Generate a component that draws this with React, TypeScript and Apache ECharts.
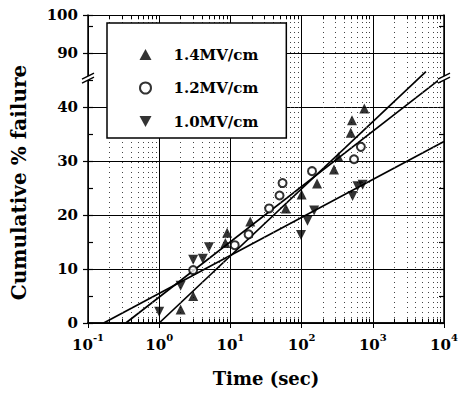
import React, { useEffect, useRef } from 'react';
import * as echarts from 'echarts';

const FONT = '"DejaVu Serif", "Liberation Serif", serif';

const seriesNames = ['1.4MV/cm', '1.2MV/cm', '1.0MV/cm'];

// [time (sec), cumulative % failure]
const data14 = [
  [2, 2.5], [3, 5], [8.5, 14.8], [9, 16.7], [19, 18.8], [60, 21.2], [100, 23.8],
  [165, 25.8], [285, 28.4], [330, 30.7], [490, 35.2], [510, 37.5], [760, 39.7],
];
const data12 = [
  [3, 9.8], [11.5, 14.4], [18, 16.4], [35, 21.2], [49, 23.6], [54, 25.9],
  [140, 28.1], [545, 30.3], [680, 32.6],
];
const data10 = [
  [1, 2.1], [2, 6.9], [3, 11.7], [4.1, 11.9], [5, 14], [98, 16.3], [121, 18.9],
  [150, 20.8], [520, 23.5], [610, 25.3], [720, 25.6],
];

// fitted lines (end points)
const fit14 = [[1, 0], [5570, 46.5]];
const fit12 = [[0.34, 0], [8500, 45]];
const fit10 = [[0.166, 0], [10000, 33.6]];

// y axis: lower part 0..45 linear, upper part 90..100 mapped to 50..57
const yMax = 57;
const yBreak = 45.5;
const yTickLabels: Record<number, string> = { 0: '0', 10: '10', 20: '20', 30: '30', 40: '40', 50: '90', 57: '100' };

const decades = [0.1, 1, 10, 100, 1000];
const minorMultipliers = [2, 3, 4, 5, 6, 7, 8, 9];
const minorX = decades.flatMap((d) => minorMultipliers.map((m) => +(d * m).toPrecision(3)));

const DOWN_TRIANGLE = 'path://M0,0L10,0L5,9Z';

export default function App() {
  const ref = useRef<HTMLDivElement>(null);
  useEffect(() => {
    document.body.style.margin = '0';
    const chart = echarts.init(ref.current!, null, { renderer: 'svg' });
    const black = '#000';
    const tickLabelStyle = { fontFamily: FONT, fontWeight: 'bold' as const, fontSize: 15, color: black };

    const minorGrid = minorX.map((v) => ({ xAxis: v }));
    const minorTicksBottom = minorX.map((v) => [{ coord: [v, 0] }, { coord: [v, 0.8] }]);
    const minorTicksTop = minorX.map((v) => [{ coord: [v, yMax] }, { coord: [v, yMax - 0.8] }]);

    const baseY = {
      type: 'value',
      min: 0,
      max: yMax,
      interval: 10,
    };

    const option: any = {
      animation: false,
      textStyle: { fontFamily: FONT },
      grid: { left: 88, right: 14, top: 15, bottom: 78, containLabel: false, outerBoundsMode: 'none' },
      xAxis: [
        {
          type: 'log', logBase: 10, min: 0.1, max: 10000, position: 'bottom',
          axisLine: { show: true, lineStyle: { color: black, width: 1.5 } },
          axisTick: { show: true, inside: true, length: 5, lineStyle: { color: black, width: 1 } },
          axisLabel: {
            margin: 9,
            formatter: (v: number) => `{b|10}{s|${Math.round(Math.log10(v))}}`,
            rich: {
              b: { ...tickLabelStyle, fontSize: 15, lineHeight: 20, verticalAlign: 'bottom' },
              s: { ...tickLabelStyle, fontSize: 10, lineHeight: 11, verticalAlign: 'top' },
            },
          },
          splitLine: { show: true, lineStyle: { color: black, width: 1 } },
          name: 'Time (sec)', nameLocation: 'middle', nameGap: 46,
          nameTextStyle: { fontFamily: FONT, fontWeight: 'bold', fontSize: 18, color: black },
        },
        {
          type: 'log', logBase: 10, min: 0.1, max: 10000, position: 'top',
          axisLine: { show: true, lineStyle: { color: black, width: 1.5 } },
          axisTick: { show: true, inside: true, length: 5, lineStyle: { color: black, width: 1 } },
          axisLabel: { show: false },
          splitLine: { show: false },
        },
      ],
      yAxis: [
        {
          ...baseY, position: 'left',
          axisLine: { show: true, lineStyle: { color: black, width: 1.5 } },
          axisTick: { show: true, inside: false, length: 5, lineStyle: { color: black, width: 1.2 } },
          axisLabel: { ...tickLabelStyle, margin: 10, formatter: (v: number) => yTickLabels[v] ?? '' },
          splitLine: { show: true, lineStyle: { color: black, width: 1 } },
        },
        {
          ...baseY, position: 'left',
          axisLine: { show: false },
          axisTick: { show: true, inside: true, length: 5, lineStyle: { color: black, width: 1.2 } },
          minorTick: { show: true, splitNumber: 2, length: 5, lineStyle: { color: black, width: 1.2 } },
          axisLabel: { show: false },
          splitLine: { show: false },
        },
        {
          ...baseY, position: 'right',
          axisLine: { show: true, lineStyle: { color: black, width: 1.5 } },
          axisTick: { show: true, inside: true, length: 5, lineStyle: { color: black, width: 1.2 } },
          minorTick: { show: true, splitNumber: 2, length: 5, lineStyle: { color: black, width: 1.2 } },
          axisLabel: { show: false },
          splitLine: { show: false },
        },
      ],
      legend: {
        data: [
          { name: seriesNames[0] },
          { name: seriesNames[1] },
          { name: seriesNames[2], icon: DOWN_TRIANGLE },
        ],
        orient: 'vertical',
        left: 107, top: 23,
        padding: [24, 28, 9, 32],
        itemWidth: 12, itemHeight: 11, itemGap: 18.5,
        backgroundColor: '#fff', borderColor: black, borderWidth: 1.5, borderRadius: 0,
        textStyle: { fontFamily: FONT, fontWeight: 'bold', fontSize: 15, color: black, padding: [0, 0, 0, 17] },
        selectedMode: false,
        z: 10,
      },
      series: [
        {
          name: 'minor', type: 'line', data: [], silent: true,
          markLine: {
            silent: true, symbol: ['none', 'none'], label: { show: false }, animation: false,
            lineStyle: { color: '#444', width: 1, type: [1, 4] },
            data: minorGrid,
          },
        },
        {
          name: 'ticks', type: 'line', data: [], silent: true,
          markLine: {
            silent: true, symbol: ['none', 'none'], label: { show: false }, animation: false,
            lineStyle: { color: black, width: 1, type: 'solid' },
            data: [...minorTicksBottom, ...minorTicksTop],
          },
        },
        { name: 'fit14', type: 'line', data: fit14, showSymbol: false, lineStyle: { color: black, width: 1.7 }, silent: true },
        { name: 'fit12', type: 'line', data: fit12, showSymbol: false, lineStyle: { color: black, width: 1.7 }, silent: true },
        { name: 'fit10', type: 'line', data: fit10, showSymbol: false, lineStyle: { color: black, width: 1.7 }, silent: true },
        {
          name: seriesNames[0], type: 'scatter', data: data14, symbol: 'triangle', symbolSize: 10,
          itemStyle: { color: black }, z: 5,
        },
        {
          name: seriesNames[1], type: 'scatter', data: data12, symbol: 'emptyCircle', symbolSize: 8,
          itemStyle: { color: black, borderColor: black, borderWidth: 1.5 }, z: 6,
        },
        {
          name: seriesNames[2], type: 'scatter', data: data10, symbol: 'triangle', symbolRotate: 180, symbolSize: 10,
          itemStyle: { color: black }, z: 5,
        },
      ],
    };
    chart.setOption(option);

    const yb = chart.convertToPixel({ yAxisIndex: 0 }, yBreak) as number;
    const xl = chart.convertToPixel({ xAxisIndex: 0 }, 0.1) as number;
    const xr = chart.convertToPixel({ xAxisIndex: 0 }, 10000) as number;
    const breakMark = (x0: number) => [
      { type: 'polygon', z: 100, shape: { points: [[x0 - 6, yb + 2], [x0 + 6, yb - 4], [x0 + 6, yb], [x0 - 6, yb + 6]] }, style: { fill: '#fff' } },
      { type: 'line', z: 101, shape: { x1: x0 - 6, y1: yb + 2, x2: x0 + 6, y2: yb - 4 }, style: { stroke: black, lineWidth: 1.5 } },
      { type: 'line', z: 101, shape: { x1: x0 - 6, y1: yb + 6, x2: x0 + 6, y2: yb }, style: { stroke: black, lineWidth: 1.5 } },
    ];
    chart.setOption({
      graphic: [
        ...breakMark(xl),
        ...breakMark(xr),
        {
          type: 'text', x: 18.5, y: 182.5, rotation: Math.PI / 2, z: 100,
          style: {
            text: 'Cumulative % failure', fontFamily: FONT, fontWeight: 'bold', fontSize: 20,
            fill: black, align: 'center', verticalAlign: 'middle',
          },
        },
      ],
    });
    return () => chart.dispose();
  }, []);
  return <div ref={ref} style={{ position: 'absolute', left: 0, top: 0, width: 458, height: 401 }} />;
}
